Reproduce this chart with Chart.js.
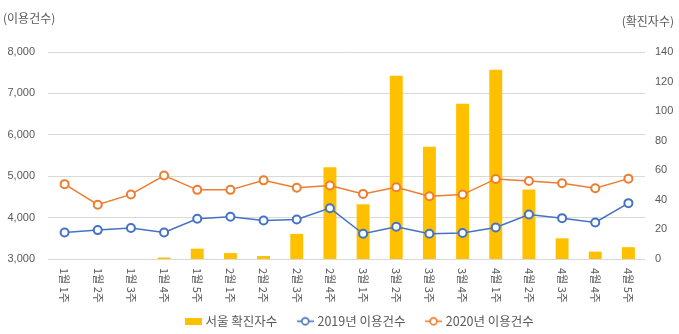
<!DOCTYPE html>
<html>
<head>
<meta charset="utf-8">
<script src="https://cdn.jsdelivr.net/npm/chart.js@4/dist/chart.umd.min.js"></script>
<style>
  html, body { margin: 0; padding: 0; background: #fff; }
  #wrap { width: 679px; height: 334px; }
</style>
</head>
<body>
<div id="wrap"><canvas id="myChart" width="679" height="334"></canvas></div>
<script>
const weeks = ['1월 1주','1월 2주','1월 3주','1월 4주','1월 5주','2월 1주','2월 2주','2월 3주','2월 4주',
  '3월 1주','3월 2주','3월 3주','3월 4주','4월 1주','4월 2주','4월 3주','4월 4주','4월 5주'];
const seoulCases = [0, 0, 0, 1, 7, 4, 2, 17, 62, 37, 124, 76, 105, 128, 47, 14, 5, 8];
const use2019 = [3641, 3698, 3747, 3641, 3971, 4019, 3930, 3954, 4228, 3609, 3778, 3609, 3626, 3761, 4074, 3987, 3882, 4349];
const use2020 = [4808, 4312, 4560, 5015, 4670, 4670, 4900, 4720, 4775, 4573, 4734, 4517, 4556, 4934, 4886, 4830, 4710, 4941];
const leftTicks = [3000, 8000, 1000];
const rightTicks = [0, 140, 20];

const gray = '#595959';
const kfont = '"Noto Sans CJK KR", "Noto Sans", sans-serif';
const nfont = '"Liberation Sans", Arial, sans-serif';

function lineMarker(color){
  const c = document.createElement('canvas');
  c.width = 17; c.height = 11;
  const g = c.getContext('2d');
  g.strokeStyle = color; g.lineWidth = 1.6;
  g.beginPath(); g.moveTo(0, 5.5); g.lineTo(17, 5.5); g.stroke();
  g.fillStyle = '#fff';
  g.beginPath(); g.arc(8.5, 5.5, 3.4, 0, Math.PI*2); g.fill(); g.stroke();
  return c;
}
function rectMarker(color){
  const c = document.createElement('canvas');
  c.width = 17; c.height = 7;
  const g = c.getContext('2d');
  g.fillStyle = color;
  g.fillRect(0, 0, 17, 7);
  return c;
}

const extras = {
  id: 'extras',
  afterLayout(chart){
    // nudge legend to where it sits in the original
    const lg = chart.legend;
    lg.left += 21; lg.right += 21;
    const dy = 293 - lg.top;
    lg.top += dy; lg.bottom += dy;
  },
  afterDraw(chart){
    const ctx = chart.ctx;
    const x = chart.scales.x;
    ctx.save();
    ctx.fillStyle = gray;
    ctx.font = '11px ' + kfont;
    weeks.forEach((w, i) => {
      const px = x.getPixelForTick(i);
      ctx.save();
      ctx.translate(px, x.top + 9);
      ctx.rotate(Math.PI / 2);
      ctx.textAlign = 'left';
      ctx.textBaseline = 'middle';
      ctx.fillText(w, 0, 0);
      ctx.restore();
    });
    ctx.font = '12px ' + kfont;
    ctx.textBaseline = 'middle';
    ctx.textAlign = 'left';
    ctx.fillText('(이용건수)', 3, 18);
    ctx.textAlign = 'right';
    ctx.fillText('(확진자수)', 674, 21);
    ctx.restore();
  }
};

new Chart('myChart', {
  type: 'bar',
  data: {
    labels: weeks,
    datasets: [{
      type: 'line',
      label: '2019년 이용건수',
      data: use2019,
      yAxisID: 'y',
      borderColor: '#4472C4',
      borderWidth: 1.5,
      pointRadius: 4,
      pointBorderWidth: 2,
      pointBackgroundColor: '#fff',
      pointBorderColor: '#4472C4',
      tension: 0,
      order: 1
    }, {
      type: 'line',
      label: '2020년 이용건수',
      data: use2020,
      yAxisID: 'y',
      borderColor: '#ED7D31',
      borderWidth: 1.5,
      pointRadius: 4,
      pointBorderWidth: 2,
      pointBackgroundColor: '#fff',
      pointBorderColor: '#ED7D31',
      tension: 0,
      order: 2
    }, {
      label: '서울 확진자수',
      data: seoulCases,
      yAxisID: 'y1',
      backgroundColor: '#FFC000',
      categoryPercentage: 1,
      barPercentage: 0.39,
      order: 3
    }]
  },
  options: {
    responsive: false,
    animation: false,
    layout: { padding: { top: 52, left: 0, right: 0, bottom: 0 } },
    plugins: {
      tooltip: { enabled: false },
      legend: {
        position: 'bottom',
        labels: {
          color: gray,
          font: { size: 12.5, family: kfont },
          usePointStyle: true,
          pointStyleWidth: 12,
          boxHeight: 10,
          padding: 22,
          generateLabels(chart){
            return [
              { text: '서울 확진자수', datasetIndex: 2, pointStyle: rectMarker('#FFC000'), fontColor: gray },
              { text: '2019년 이용건수', datasetIndex: 0, pointStyle: lineMarker('#4472C4'), fontColor: gray },
              { text: '2020년 이용건수', datasetIndex: 1, pointStyle: lineMarker('#ED7D31'), fontColor: gray }
            ];
          }
        }
      }
    },
    scales: {
      x: {
        grid: { display: false },
        border: { display: false },
        ticks: { display: false },
        afterFit(scale){ scale.height = 334 - 259 - scale.chart.legend.height; }
      },
      y: {
        position: 'left',
        min: leftTicks[0], max: leftTicks[1],
        ticks: { stepSize: leftTicks[2], color: gray, font: { size: 11, family: nfont }, padding: 13,
          callback: v => v.toLocaleString('en-US') },
        grid: { color: '#D9D9D9', drawTicks: false },
        border: { display: false },
        afterFit(scale){ scale.width = 48; }
      },
      y1: {
        position: 'right',
        min: rightTicks[0], max: rightTicks[1],
        ticks: { stepSize: rightTicks[2], color: gray, font: { size: 11, family: nfont }, padding: 10 },
        grid: { display: false, drawTicks: false },
        border: { display: false },
        afterFit(scale){ scale.width = 34; }
      }
    }
  },
  plugins: [extras]
});
</script>
</body>
</html>
